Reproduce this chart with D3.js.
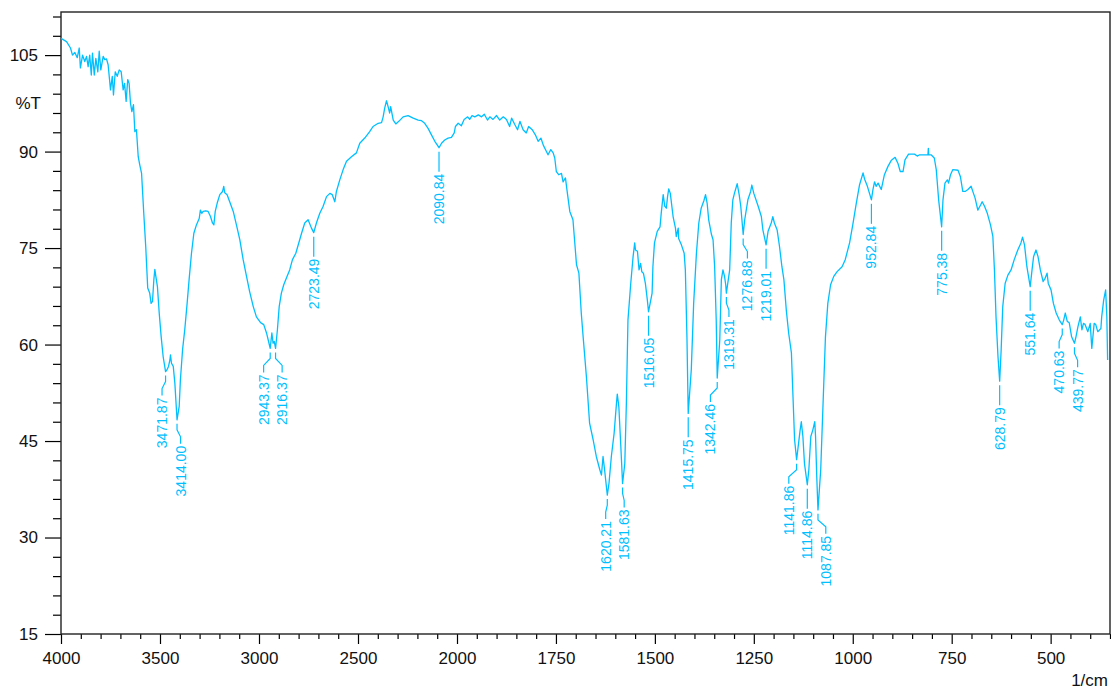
<!DOCTYPE html>
<html>
<head>
<meta charset="utf-8">
<script src="https://d3js.org/d3.v7.min.js"></script>
<style>
  body { margin: 0; background: #fff; }
  svg { display: block; font-family: "Liberation Sans", Arial, sans-serif; }
</style>
</head>
<body>
<svg width="1111" height="689"></svg>
<script>

// spectrum (1/cm, %T)
var wavenumber = [
  4000, 3972, 3952, 3942, 3930, 3918, 3908, 3902, 3891, 3880, 3871, 3863, 3855, 3847, 3841, 3832,
  3824, 3814, 3807, 3799, 3787, 3779, 3770, 3762, 3750, 3741, 3735, 3726, 3716, 3706, 3696, 3686,
  3679, 3671, 3663, 3656, 3649, 3642, 3634, 3627, 3619, 3610, 3602, 3593, 3582, 3572, 3562, 3552,
  3545, 3538, 3531, 3526, 3521, 3513, 3504, 3494, 3484, 3471.87, 3466, 3457, 3450, 3447, 3442, 3433,
  3425, 3419, 3414, 3403, 3397, 3386, 3375, 3363, 3353, 3341, 3329, 3316, 3302, 3296, 3289, 3282,
  3269, 3257, 3245, 3235, 3228, 3221, 3211, 3198, 3184, 3178, 3173, 3161, 3148, 3130, 3114, 3097,
  3080, 3063, 3047, 3029, 3013, 2992, 2976, 2962, 2951, 2943.37, 2935, 2929, 2923, 2916.37, 2907, 2898,
  2887, 2875, 2858, 2845, 2831, 2814, 2785, 2769, 2752, 2735, 2723.49, 2710, 2693, 2676, 2659, 2642,
  2630, 2617, 2609, 2592, 2575, 2558, 2533, 2508, 2491, 2466, 2441, 2424, 2398, 2381, 2373, 2365,
  2356, 2348, 2340, 2335, 2322, 2309, 2294, 2272, 2247, 2221, 2196, 2179, 2163, 2146, 2129, 2112,
  2090.84, 2078, 2062, 2045, 2028, 2014, 2008, 1997, 1989, 1982, 1973, 1968, 1962, 1955, 1946, 1938,
  1931, 1923, 1917, 1909, 1900, 1892, 1883, 1875, 1867, 1862, 1854, 1847, 1841, 1833, 1825, 1819,
  1810, 1802, 1795, 1788, 1782, 1774, 1770, 1763, 1757, 1753, 1749, 1743, 1736, 1732, 1726, 1721,
  1715, 1707, 1698, 1692, 1686, 1681, 1673, 1665, 1656, 1648, 1639, 1635, 1631, 1627, 1620.21, 1616,
  1610, 1603, 1597, 1595, 1591, 1586, 1581.63, 1576, 1572, 1568, 1561, 1555, 1551, 1549, 1544, 1540,
  1536, 1533, 1529, 1524, 1519, 1516.05, 1511, 1507, 1505, 1501, 1494, 1487, 1484, 1479, 1475, 1471,
  1468, 1465, 1461, 1454, 1448, 1446, 1441, 1440, 1433, 1426, 1423, 1419, 1415.75, 1408, 1402, 1395,
  1389, 1383, 1376, 1372, 1368, 1364, 1357, 1353, 1349, 1345, 1342.46, 1336, 1332, 1328, 1324, 1321,
  1319.31, 1311, 1307, 1303, 1299, 1292, 1287, 1283, 1276.88, 1273, 1265, 1258, 1255, 1250, 1239, 1231,
  1227, 1219.01, 1214, 1206, 1202, 1198, 1191, 1185, 1179, 1174, 1168, 1162, 1155, 1151, 1147, 1141.86,
  1138, 1133, 1130, 1126, 1122, 1114.86, 1111, 1106, 1101, 1096, 1094, 1091, 1087.85, 1081, 1075, 1069,
  1063, 1056, 1048, 1040, 1027, 1019, 1008, 1000, 991, 983, 974, 970, 963, 952.84, 949, 945,
  941, 936, 928, 920, 911, 903, 893, 886, 880, 873, 868, 859, 844, 837, 831, 810,
  809, 808, 802, 794, 789, 783, 775.38, 772, 767, 761, 758, 753, 747, 734, 728, 722,
  716, 709, 701, 695, 691, 684, 677, 673, 667, 660, 652, 646, 642, 638, 633, 628.79,
  625, 621, 615, 608, 600, 592, 583, 575, 571, 566, 560, 551.64, 547, 543, 537, 532,
  526, 519, 514, 509, 506, 499, 493, 486, 478, 470.63, 467, 463, 458, 453, 447, 439.77,
  436, 431, 425, 421, 417, 413, 406, 400, 396, 390, 386, 381, 373, 371, 366, 361,
  358, 356
];
var transmittance = [
  107.6, 107.1, 106.1, 105.0, 105.4, 104.6, 106.1, 103.0, 105.0, 104.0, 104.8, 103.2, 105.0, 101.9, 105.3, 101.9,
  104.5, 102.4, 105.6, 102.7, 104.8, 104.3, 104.4, 103.5, 99.6, 101.7, 98.8, 102.4, 101.7, 102.7, 102.4, 99.6,
  100.6, 97.8, 101.2, 100.6, 97.5, 96.2, 97.3, 93.1, 93.4, 89.2, 87.9, 86.6, 80.4, 75.2, 68.8, 68.0,
  66.4, 66.7, 70.1, 71.7, 70.6, 69.0, 64.9, 61.2, 58.1, 55.8, 56.0, 56.6, 57.6, 58.4, 57.1, 56.6,
  54.0, 50.9, 48.3, 50.4, 54.5, 59.2, 62.3, 66.4, 70.1, 74.2, 77.3, 78.6, 79.6, 80.9, 80.4, 80.7,
  80.8, 80.7, 79.9, 78.9, 78.6, 80.7, 82.0, 83.3, 83.8, 84.6, 83.6, 83.3, 82.2, 80.7, 78.6, 76.3,
  73.2, 70.6, 68.2, 65.9, 64.3, 63.4, 63.1, 61.8, 60.4, 59.4, 61.8, 60.2, 60.5, 59.4, 62.3, 65.9,
  68.0, 69.3, 70.6, 71.6, 73.2, 74.2, 77.3, 78.9, 79.4, 78.1, 77.4, 78.9, 80.4, 81.5, 83.0, 83.5,
  83.3, 82.2, 83.8, 85.6, 87.2, 88.5, 89.2, 89.8, 91.3, 92.1, 93.1, 93.9, 94.4, 94.5, 95.4, 96.8,
  97.9, 97.0, 96.0, 97.0, 94.9, 94.3, 94.7, 95.4, 95.6, 95.2, 94.9, 94.8, 94.4, 93.6, 92.6, 91.6,
  90.6, 91.3, 91.8, 92.1, 92.2, 92.9, 93.9, 94.4, 94.0, 95.0, 95.4, 95.0, 95.6, 95.4, 95.7, 95.4,
  95.8, 94.9, 95.4, 95.0, 95.6, 94.9, 95.4, 95.0, 93.9, 95.2, 94.2, 93.4, 94.7, 93.4, 92.9, 93.9,
  93.4, 92.6, 91.6, 92.1, 91.0, 90.0, 89.5, 90.3, 89.8, 89.0, 86.9, 86.4, 86.6, 85.3, 85.9, 83.5,
  80.7, 79.4, 72.4, 71.1, 64.9, 61.0, 55.0, 47.8, 45.2, 42.6, 40.5, 39.7, 42.6, 40.5, 36.6, 38.4,
  42.6, 46.2, 50.9, 52.3, 50.3, 44.1, 38.4, 41.5, 50.9, 63.8, 69.5, 73.7, 75.8, 74.7, 74.5, 71.6,
  72.6, 71.3, 71.1, 69.5, 66.9, 65.1, 66.7, 68.0, 72.1, 75.8, 77.6, 78.3, 80.4, 83.3, 81.5, 81.2,
  83.0, 84.2, 83.5, 79.9, 78.1, 76.8, 78.1, 76.5, 75.5, 74.2, 71.6, 61.2, 49.3, 56.1, 66.4, 74.2,
  78.9, 81.2, 82.4, 83.3, 82.0, 79.4, 77.1, 76.3, 72.1, 63.8, 54.8, 60.7, 70.1, 71.6, 70.6, 69.3,
  68.0, 71.6, 78.9, 82.5, 83.5, 85.0, 83.3, 81.5, 77.1, 79.4, 82.5, 83.8, 84.8, 83.5, 81.5, 79.9,
  77.8, 75.5, 77.6, 78.9, 79.9, 78.9, 77.8, 75.2, 72.1, 70.1, 65.4, 61.8, 58.7, 51.9, 45.2, 42.1,
  44.1, 46.7, 48.0, 45.7, 41.5, 38.2, 40.5, 45.7, 46.7, 48.0, 45.7, 39.5, 34.3, 40.5, 50.9, 61.2,
  66.4, 69.3, 70.6, 71.3, 72.1, 73.2, 75.8, 78.6, 82.0, 84.8, 86.7, 85.7, 84.6, 82.5, 84.1, 85.3,
  84.6, 85.1, 84.1, 86.4, 87.7, 88.6, 89.1, 88.2, 86.9, 86.9, 88.7, 89.6, 89.6, 89.3, 89.5, 89.5,
  90.5, 89.5, 89.5, 89.0, 87.2, 82.5, 78.3, 82.5, 85.1, 85.6, 85.1, 86.4, 87.2, 87.1, 86.1, 83.8,
  83.8, 84.1, 84.6, 83.5, 82.8, 80.9, 81.7, 82.2, 81.5, 80.4, 78.6, 76.8, 71.6, 64.3, 58.1, 54.3,
  59.2, 65.9, 69.5, 70.8, 71.6, 73.2, 74.7, 75.8, 76.7, 75.5, 72.1, 69.0, 71.6, 73.7, 74.7, 73.7,
  71.6, 69.8, 70.3, 71.1, 69.5, 68.5, 66.4, 64.9, 63.8, 63.1, 63.8, 64.9, 63.6, 63.4, 61.2, 60.2,
  61.2, 62.8, 64.3, 62.3, 63.3, 63.1, 62.0, 63.3, 59.4, 63.3, 63.1, 62.0, 62.5, 64.3, 66.9, 68.5,
  64.3, 57.6
];

var peakLabels = ["3471.87", "3414.00", "2943.37", "2916.37", "2723.49", "2090.84",
  "1620.21", "1581.63", "1516.05", "1415.75", "1342.46", "1319.31", "1276.88", "1219.01",
  "1141.86", "1114.86", "1087.85", "952.84", "775.38", "628.79", "551.64", "470.63", "439.77"];

var xMajorTicks = [4000, 3500, 3000, 2500, 2000, 1750, 1500, 1250, 1000, 750, 500];
var yMajorTicks = [15, 30, 45, 60, 75, 90, 105];

var svg = d3.select("svg");
var plot = {left: 61, right: 1110, top: 12, bottom: 634};
var cyan = "#00bfff";

// the wavenumber axis changes scale at 2000
var x = d3.scaleLinear()
    .domain([4000, 2000, 350])
    .range([plot.left, 457, plot.right]);

var y = d3.scaleLinear()
    .domain([15, 111.7])
    .range([plot.bottom, plot.top]);

var xMinor = d3.range(4000, 2000, -100).concat(d3.range(2000, 349, -50))
    .filter(function(d) { return xMajorTicks.indexOf(d) < 0; });
var yMinor = d3.range(15, 112, 3)
    .filter(function(d) { return yMajorTicks.indexOf(d) < 0; });

// minor ticks
svg.append("g")
    .attr("transform", "translate(0," + plot.bottom + ")")
    .call(d3.axisBottom(x).tickValues(xMinor).tickSize(5).tickFormat(""))
    .select(".domain").remove();
svg.append("g")
    .attr("transform", "translate(" + plot.left + ",0)")
    .call(d3.axisLeft(y).tickValues(yMinor).tickSize(8).tickFormat(""))
    .select(".domain").remove();

// major ticks
var xAxis = svg.append("g")
    .attr("transform", "translate(0," + plot.bottom + ")")
    .call(d3.axisBottom(x).tickValues(xMajorTicks).tickSize(10).tickPadding(8).tickFormat(d3.format("d")));
xAxis.select(".domain").remove();

var yAxis = svg.append("g")
    .attr("transform", "translate(" + plot.left + ",0)")
    .call(d3.axisLeft(y).tickValues(yMajorTicks).tickSize(16).tickPadding(7).tickFormat(d3.format("d")));
yAxis.select(".domain").remove();

svg.selectAll(".tick line").attr("stroke", "#000").attr("stroke-width", 1.2);
svg.selectAll(".tick text")
    .attr("font-family", "Liberation Sans, Arial, sans-serif")
    .attr("font-size", 17)
    .attr("fill", "#111");

// frame
svg.append("rect")
    .attr("x", plot.left)
    .attr("y", plot.top)
    .attr("width", plot.right - plot.left)
    .attr("height", plot.bottom - plot.top)
    .attr("fill", "none")
    .attr("stroke", "#222")
    .attr("stroke-width", 1.4);

svg.append("text")
    .attr("x", 41)
    .attr("y", y(96.6))
    .attr("text-anchor", "end")
    .attr("font-size", 17)
    .attr("fill", "#111")
    .text("%T");

svg.append("text")
    .attr("x", 1108)
    .attr("y", 686)
    .attr("text-anchor", "end")
    .attr("font-size", 17)
    .attr("fill", "#111")
    .text("1/cm");

// spectrum
var spectrum = wavenumber.map(function(w, i) { return [w, transmittance[i]]; });

svg.append("path")
    .datum(spectrum)
    .attr("fill", "none")
    .attr("stroke", cyan)
    .attr("stroke-width", 1.3)
    .attr("stroke-linejoin", "round")
    .attr("d", d3.line()
        .x(function(d) { return x(d[0]); })
        .y(function(d) { return y(d[1]); }));

// peak labels, pushed apart sideways where they would overlap
var peaks = peakLabels.map(function(s) {
  var wn = +s;
  var i = d3.minIndex(wavenumber, function(w) { return Math.abs(w - wn); });
  return {text: s, px: x(wn), py: y(transmittance[i]), lx: x(wn)};
}).sort(function(a, b) { return a.px - b.px; });

var minGap = 18.5;
for (var k = 0; k < 60; k++) {
  for (var i = 1; i < peaks.length; i++) {
    var gap = peaks[i].lx - peaks[i - 1].lx;
    if (gap < minGap) {
      var d = (minGap - gap) / 2;
      peaks[i - 1].lx -= d;
      peaks[i].lx += d;
    }
  }
}

var marks = svg.append("g").selectAll("g")
    .data(peaks)
    .enter().append("g");

marks.append("path")
    .attr("fill", "none")
    .attr("stroke", cyan)
    .attr("stroke-width", 1.2)
    .attr("d", function(d) {
      if (Math.abs(d.lx - d.px) < 0.5) {
        return "M" + d.px + "," + (d.py + 4) + "V" + (d.py + 24);
      }
      return "M" + d.px + "," + (d.py + 4) + "V" + (d.py + 10) +
             "L" + d.lx + "," + (d.py + 17) + "V" + (d.py + 24);
    });

marks.append("text")
    .attr("transform", function(d) { return "translate(" + d.lx + "," + (d.py + 26) + ") rotate(-90)"; })
    .attr("text-anchor", "end")
    .attr("dy", "0.36em")
    .attr("font-size", 14)
    .attr("fill", cyan)
    .text(function(d) { return d.text; });

</script>
</body>
</html>
